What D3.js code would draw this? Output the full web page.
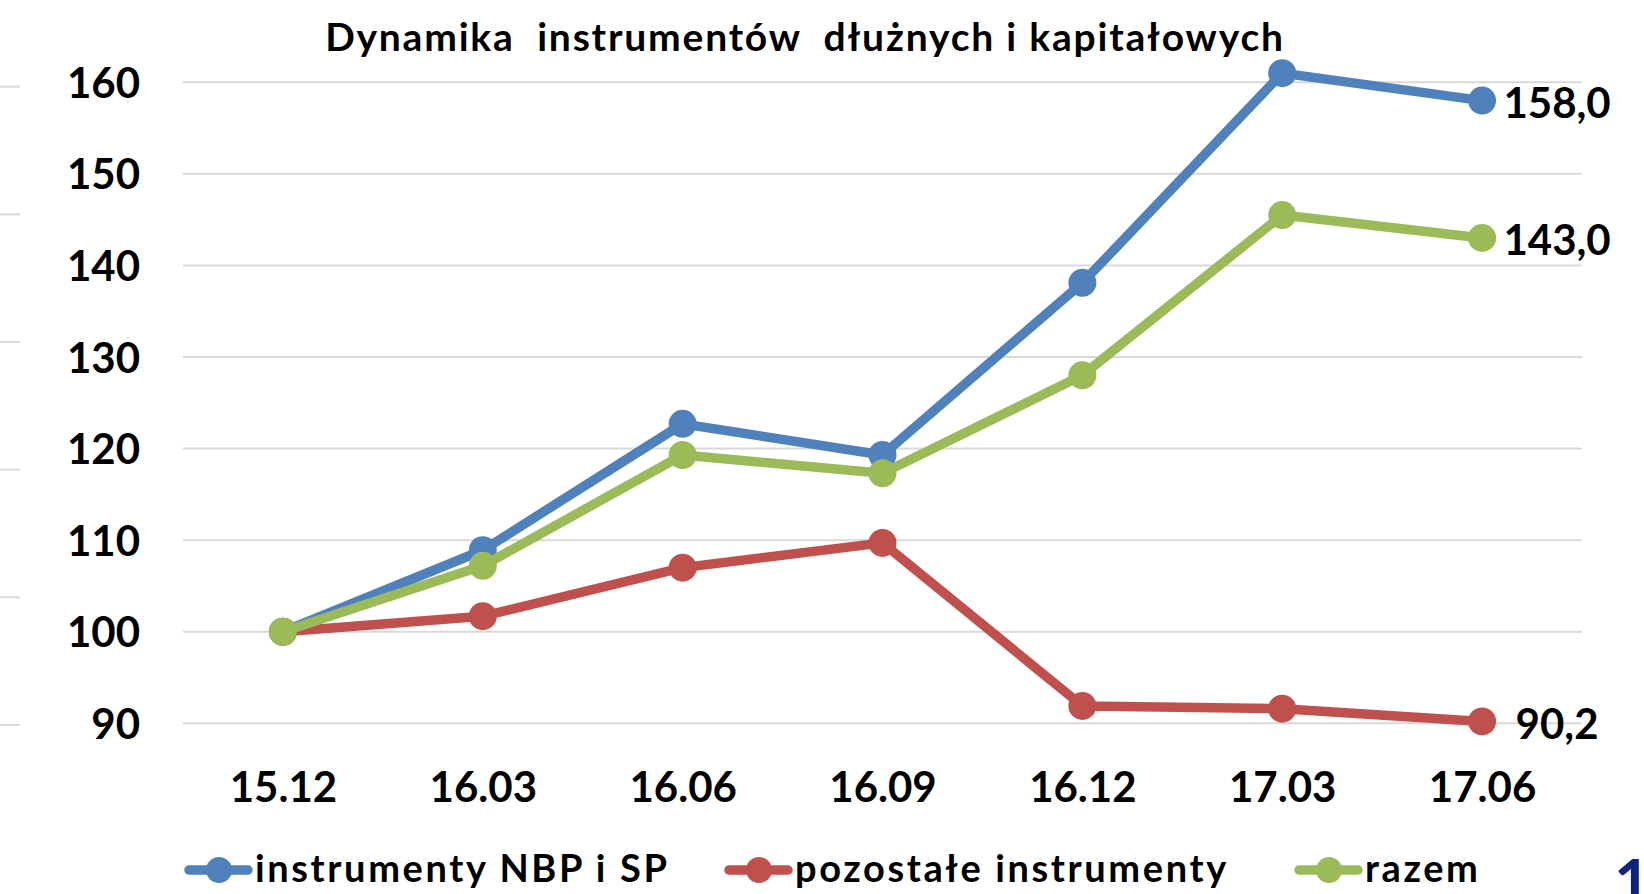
<!DOCTYPE html>
<meta charset="utf-8">
<head>
<style>
  body { margin: 0; background: #fff; }
  text { font-family: Lato, "Open Sans", sans-serif; font-weight: bold; fill: #000; }
</style>
</head>
<body>
  <script src="https://d3js.org/d3.v7.min.js"></script>

  <script>
    var categories = ["15.12", "16.03", "16.06", "16.09", "16.12", "17.03", "17.06"];
    var nbp = [100, 108.9, 122.7, 119.3, 138.1, 161.0, 158.0];
    var other = [100, 101.7, 107.0, 109.7, 91.9, 91.6, 90.2];
    var total = [100, 107.2, 119.3, 117.3, 128.0, 145.5, 143.0];
    var seriesNames = ["instrumenty NBP i SP", "pozostałe instrumenty", "razem"];
    var colors = ["#4F81BD", "#C0504D", "#9BBB59"];
    var yTicks = [90, 100, 110, 120, 130, 140, 150, 160];
    var endLabels = ["158,0", "90,2", "143,0"];
    var title = "Dynamika  instrumentów  dłużnych i kapitałowych";

    var width = 1644, height = 894;

    var svg = d3.select("body")
      .append("svg")
      .attr("width", width)
      .attr("height", height);

    var x = d3.scalePoint()
      .domain(categories)
      .range([183, 1582])
      .padding(0.5);

    var y = d3.scaleLinear()
      .domain([90, 160])
      .range([723.3, 82.3]);

    // stubs of the neighbouring chart at the left edge
    var stub = d3.scaleLinear().domain([0, 5]).range([86.7, 725]);
    svg.append("g")
      .selectAll("line")
      .data(d3.range(6))
      .enter().append("line")
      .attr("x1", 0).attr("x2", 20)
      .attr("y1", function (d) { return stub(d); })
      .attr("y2", function (d) { return stub(d); })
      .style("stroke", "#d9d9d9")
      .style("stroke-width", 2);

    // gridlines
    svg.append("g")
      .selectAll("line")
      .data(yTicks)
      .enter().append("line")
      .attr("x1", 183).attr("x2", 1582)
      .attr("y1", function (d) { return y(d); })
      .attr("y2", function (d) { return y(d); })
      .style("stroke", "#d9d9d9")
      .style("stroke-width", 2);

    // y axis labels
    var yAxis = svg.append("g")
      .attr("transform", "translate(140,0)")
      .call(d3.axisLeft(y).tickValues(yTicks).tickSize(0).tickPadding(0));
    yAxis.select(".domain").remove();
    yAxis.attr("font-family", null).attr("font-size", null);
    yAxis.selectAll("text")
      .attr("font-size", 42)
      .attr("dy", "0.36em");

    // x axis labels
    var xAxis = svg.append("g")
      .attr("transform", "translate(0,787)")
      .call(d3.axisBottom(x).tickSize(0).tickPadding(0));
    xAxis.select(".domain").remove();
    xAxis.attr("font-family", null).attr("font-size", null);
    xAxis.selectAll("text")
      .attr("font-size", 42)
      .attr("dy", "0.36em");

    // title
    svg.append("text")
      .attr("x", 805)
      .attr("y", 51)
      .attr("text-anchor", "middle")
      .attr("font-size", 39)
      .style("white-space", "pre")
      .style("letter-spacing", "1.8px")
      .text(title);

    var series = [nbp, other, total];
    var line = d3.line()
      .x(function (d, i) { return x(categories[i]); })
      .y(function (d) { return y(d); });

    series.forEach(function (vals, s) {
      var g = svg.append("g");
      g.append("path")
        .datum(vals)
        .attr("d", line)
        .style("fill", "none")
        .style("stroke", colors[s])
        .style("stroke-width", 9.5)
        .style("stroke-linejoin", "round");
      g.selectAll("circle")
        .data(vals)
        .enter().append("circle")
        .attr("cx", function (d, i) { return x(categories[i]); })
        .attr("cy", function (d) { return y(d); })
        .attr("r", 14)
        .style("fill", colors[s]);
      var last = vals.length - 1;
      g.append("text")
        .attr("x", x(categories[last]) + 75)
        .attr("y", y(vals[last]) + 2)
        .attr("dy", "0.36em")
        .attr("text-anchor", "middle")
        .attr("font-size", 42)
        .text(endLabels[s]);
    });

    // legend
    var legendX = [185, 725, 1295];
    var legend = svg.append("g")
      .selectAll("g")
      .data(seriesNames)
      .enter().append("g")
      .attr("transform", function (d, i) { return "translate(" + legendX[i] + ",870)"; });
    legend.append("line")
      .attr("x1", 4).attr("x2", 63)
      .attr("y1", 0).attr("y2", 0)
      .style("stroke", function (d, i) { return colors[i]; })
      .style("stroke-width", 9.5)
      .style("stroke-linecap", "round");
    legend.append("circle")
      .attr("cx", 34).attr("cy", 0).attr("r", 13)
      .style("fill", function (d, i) { return colors[i]; });
    legend.append("text")
      .attr("x", 70)
      .attr("y", 12)
      .attr("font-size", 38)
      .style("letter-spacing", "2.6px")
      .text(function (d) { return d; });

    // page number peeking in from the corner
    svg.append("text")
      .attr("x", 1614)
      .attr("y", 905)
      .attr("font-size", 64)
      .style("fill", "#0d2580")
      .text("1");
  </script>
</body>
</html>
